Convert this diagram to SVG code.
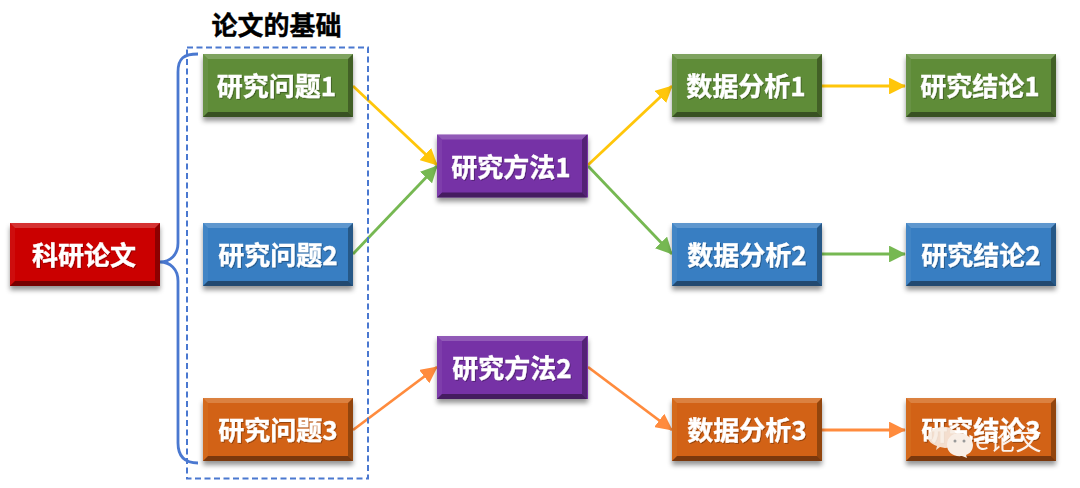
<svg xmlns="http://www.w3.org/2000/svg" width="1080" height="488" viewBox="0 0 1080 488">
<style>
text{font-family:"Microsoft YaHei","Noto Sans CJK SC","Noto Sans",sans-serif;font-weight:700}
.l{font-size:26px;fill:#fff;stroke:#fff;stroke-width:.35px;text-anchor:middle;filter:url(#ts)}
.hi{fill:#fff;opacity:.2}.lo{fill:#000;opacity:.42}.si{fill:#000;opacity:.3}.sl{fill:#fff;opacity:.06}
.box{filter:url(#sh)}
.c{fill:none;stroke-width:2.8}
.red{fill:#cb0000}.gr{fill:#5f8c39}.bl{fill:#377ec2}.or{fill:#d26212}.pu{fill:#7631a6}
</style>
<defs>
<filter id="sh" x="-10%" y="-20%" width="120%" height="150%"><feDropShadow dx="0" dy="4" stdDeviation="2.5" flood-color="#000" flood-opacity=".42"/></filter>
<filter id="ts" x="-10%" y="-20%" width="120%" height="150%"><feDropShadow dx="1" dy="1" stdDeviation=".6" flood-color="#000" flood-opacity=".3"/></filter>
<marker id="ay" viewBox="0 0 10 10" refX="9.500" refY="5" markerWidth="6" markerHeight="6" markerUnits="strokeWidth" orient="auto"><path d="M0 0L10 5L0 10z" fill="#ffc60a"/></marker>
<marker id="ag" viewBox="0 0 10 10" refX="9.500" refY="5" markerWidth="6" markerHeight="6" markerUnits="strokeWidth" orient="auto"><path d="M0 0L10 5L0 10z" fill="#76b852"/></marker>
<marker id="ao" viewBox="0 0 10 10" refX="9.500" refY="5" markerWidth="6" markerHeight="6" markerUnits="strokeWidth" orient="auto"><path d="M0 0L10 5L0 10z" fill="#ff8b3d"/></marker>
<g id="bevel">
<path class="hi" d="M0 0H150L145 5H5z"/>
<path class="sl" d="M0 0L5 5V58L0 63z"/>
<path class="si" d="M150 0V63L145 58V5z"/>
<path class="lo" d="M0 63L5 58H145L150 63z"/>
</g>
</defs>

<g id="connectors">
<path class="c" stroke="#4a78d0" d="M198 54C184 54 178 58 178 72V243C178 255 170 262 160 262C170 262 178 269 178 281V443C178 456 184 463 198 463"/>
<path class="c" stroke="#ffc60a" marker-end="url(#ay)" d="M353 86L437 165"/>
<path class="c" stroke="#76b852" marker-end="url(#ag)" d="M353 254L437 166"/>
<path class="c" stroke="#ff8b3d" marker-end="url(#ao)" d="M353 430L437 367"/>
<path class="c" stroke="#ffc60a" marker-end="url(#ay)" d="M588 165L672 86"/>
<path class="c" stroke="#76b852" marker-end="url(#ag)" d="M588 166L672 254"/>
<path class="c" stroke="#ff8b3d" marker-end="url(#ao)" d="M588 367L672 430"/>
<path class="c" stroke="#ffc60a" marker-end="url(#ay)" d="M822 86H905"/>
<path class="c" stroke="#76b852" marker-end="url(#ag)" d="M822 254H905"/>
<path class="c" stroke="#ff8b3d" marker-end="url(#ao)" d="M822 430H905"/>
</g>

<g id="foundation">
<rect x="187" y="47.500" width="181" height="431" fill="none" stroke="#4a78d0" stroke-width="2" stroke-dasharray="6 3.500"/>
<text x="276.500" y="35" font-size="26" fill="#000" stroke="#000" stroke-width=".35" text-anchor="middle">论文的基础</text>
</g>

<g id="n-paper"><g class="box" transform="translate(10 223)"><rect class="red" width="150" height="63"/><use href="#bevel"/></g><text class="l" x="84" y="265">科研论文</text></g>
<g id="n-q1"><g class="box" transform="translate(203 54)"><rect class="gr" width="150" height="63"/><use href="#bevel"/></g><text class="l" x="276.500" y="96">研究问题1</text></g>
<g id="n-q2"><g class="box" transform="translate(203 223)"><rect class="bl" width="150" height="63"/><use href="#bevel"/></g><text class="l" x="278" y="265">研究问题2</text></g>
<g id="n-q3"><g class="box" transform="translate(203 398)"><rect class="or" width="150" height="63"/><use href="#bevel"/></g><text class="l" x="278" y="440">研究问题3</text></g>
<g id="n-m1"><g class="box" transform="translate(437 134.500)"><rect class="pu" width="151" height="63"/><use href="#bevel"/></g><text class="l" x="511" y="176.500">研究方法1</text></g>
<g id="n-m2"><g class="box" transform="translate(437 336)"><rect class="pu" width="151" height="63"/><use href="#bevel"/></g><text class="l" x="512" y="378">研究方法2</text></g>
<g id="n-a1"><g class="box" transform="translate(672 54)"><rect class="gr" width="150" height="63"/><use href="#bevel"/></g><text class="l" x="746" y="96">数据分析1</text></g>
<g id="n-a2"><g class="box" transform="translate(672 223)"><rect class="bl" width="150" height="63"/><use href="#bevel"/></g><text class="l" x="747" y="265">数据分析2</text></g>
<g id="n-a3"><g class="box" transform="translate(672 398)"><rect class="or" width="150" height="63"/><use href="#bevel"/></g><text class="l" x="747" y="440">数据分析3</text></g>
<g id="n-c1"><g class="box" transform="translate(906 54)"><rect class="gr" width="150" height="63"/><use href="#bevel"/></g><text class="l" x="980" y="96">研究结论1</text></g>
<g id="n-c2"><g class="box" transform="translate(906 223)"><rect class="bl" width="150" height="63"/><use href="#bevel"/></g><text class="l" x="981" y="265">研究结论2</text></g>
<g id="n-c3"><g class="box" transform="translate(906 398)"><rect class="or" width="150" height="63"/><use href="#bevel"/></g><text class="l" x="981" y="440">研究结论3</text></g>

<g id="watermark">
<path d="M941 427C950 426 957 431 957 438C957 444 951 448 945 448L940 447L936 450L937 446C931 444 928 441 928 437C928 432 934 428 941 427z" fill="#f7ece2" opacity=".9"/>
<path d="M959 433C967 433 973 439 973 445C973 451 969 454 966 455L967 458L962 456C953 457 947 452 947 445C947 438 952 433 959 433z" fill="#f8eee6"/>
<circle cx="955" cy="441" r="1.500" fill="#9a9a9a"/><circle cx="964" cy="441" r="1.500" fill="#9a9a9a"/>
<text x="975" y="450" font-size="26" fill="#fff" opacity=".92" style="font-weight:400">e论文</text>
</g>
</svg>
